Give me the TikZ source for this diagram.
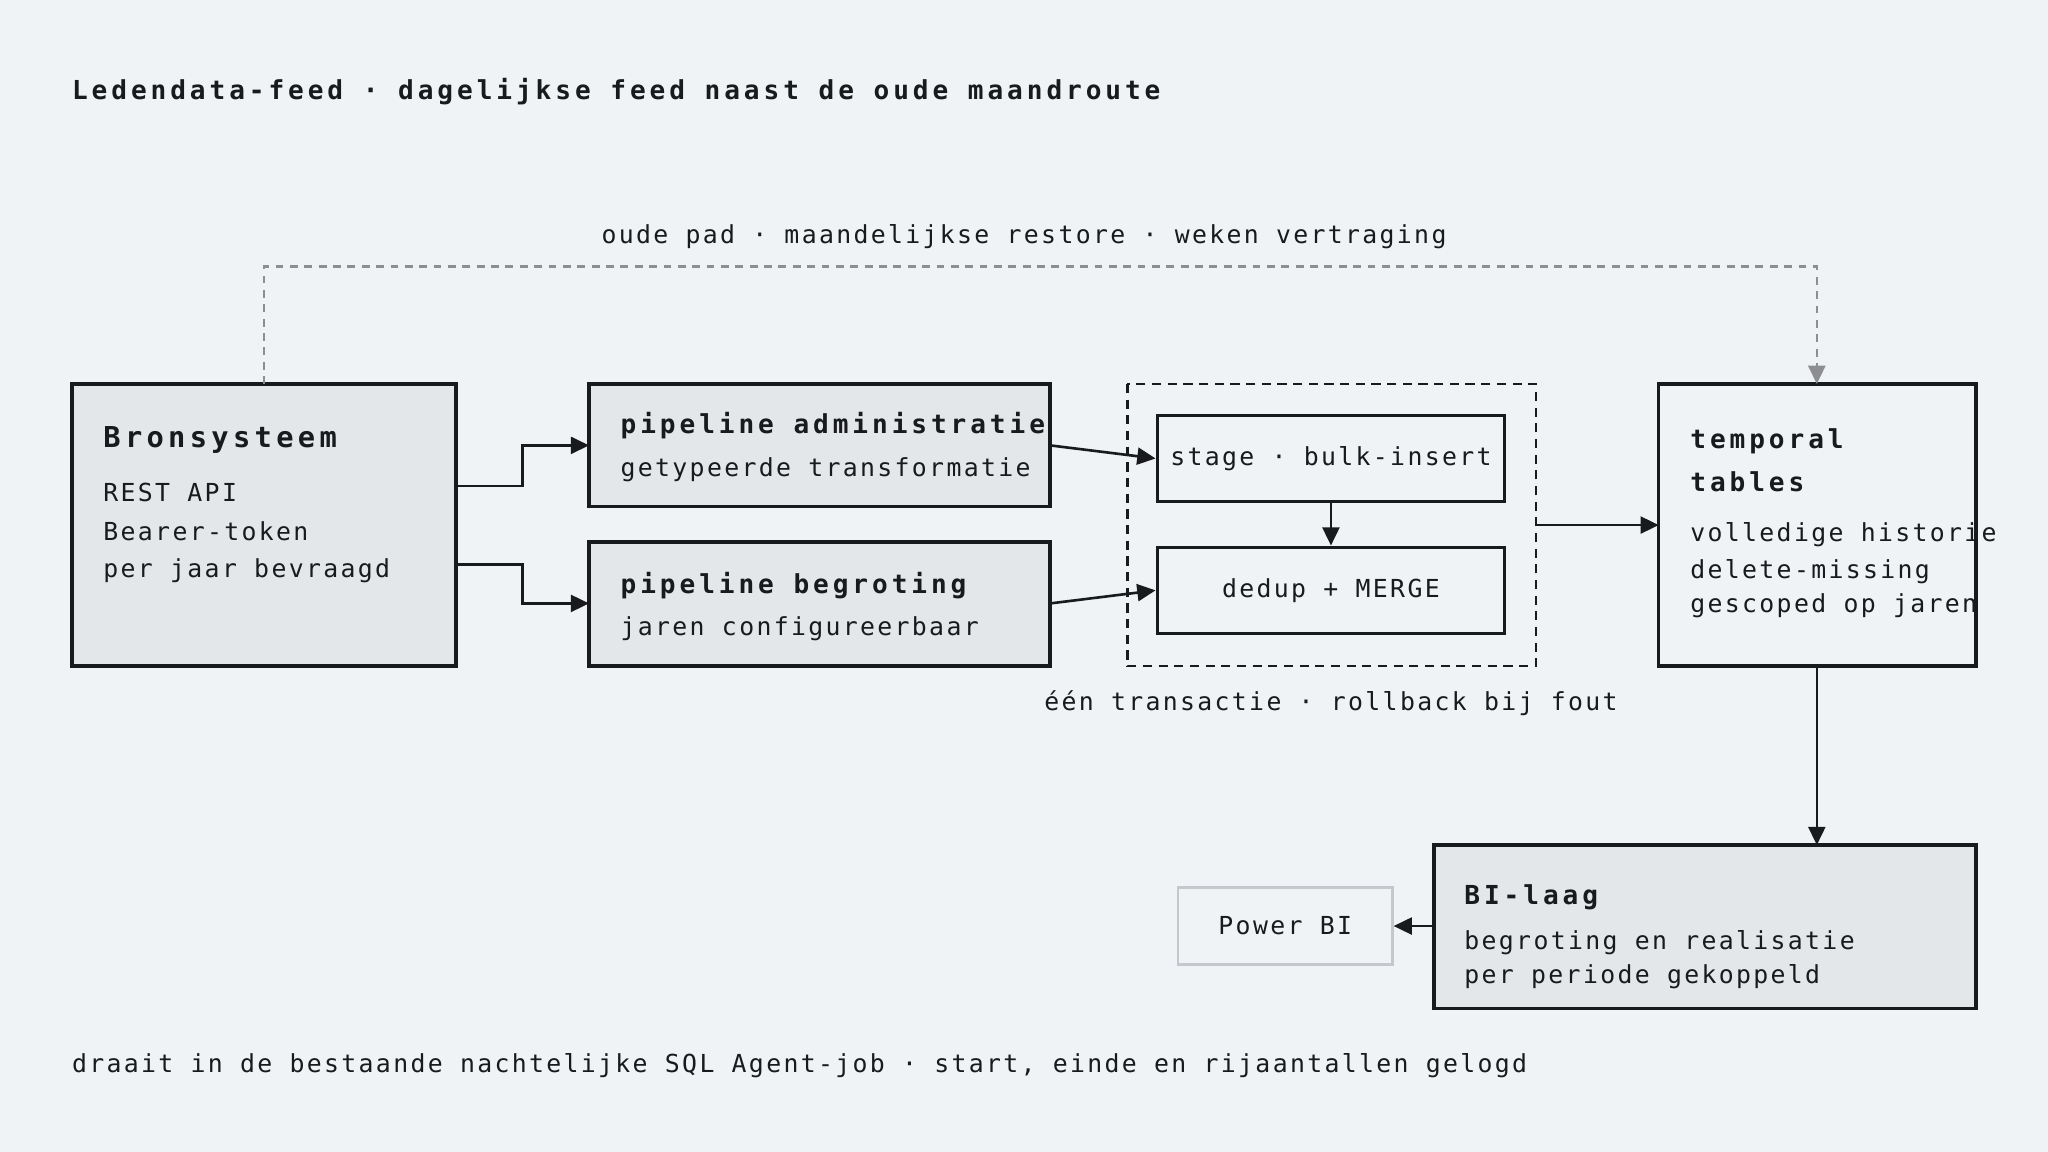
\documentclass[tikz,border=0pt]{standalone}
\usepackage{fontspec}
\setmonofont{DejaVu Sans Mono}
\usetikzlibrary{arrows.meta, positioning}
\newfontfamily\plexmono[LetterSpace=9.4]{DejaVu Sans Mono}
\newfontfamily\plexbold[LetterSpace=15]{DejaVu Sans Mono Bold}
\definecolor{bgpaper}{RGB}{240,243,246}
\definecolor{boxgray}{RGB}{228,231,234}
\definecolor{inkdark}{RGB}{24,26,30}
\definecolor{routegray}{RGB}{140,142,146}
\definecolor{pbiborder}{RGB}{196,199,203}

\begin{document}
\begin{tikzpicture}[
    x=1pt, y=-1pt,
    every node/.style={font=\plexmono\fontsize{19}{23}\selectfont, text=inkdark},
    box/.style={draw=inkdark, line width=2.6pt},
    heavy/.style={box, fill=boxgray},
    arrow/.style={-{Triangle[length=14pt,width=13pt]}, line width=2pt, draw=inkdark},
    txt/.style={anchor=west, inner sep=0pt},
    head/.style={txt, font=\plexbold\fontsize{20}{24}\selectfont}
]
    \fill[bgpaper] (0,0) rectangle (1568,882);

    % Title
    \node[head] (title) at (55,70) {Ledendata-feed · dagelijkse feed naast de oude maandroute};

    % Source
    \draw[heavy] (55,294) rectangle (349,510);
    \coordinate (bron) at (202,294);
    \node[head, font=\plexbold\fontsize{22}{26}\selectfont] (brontitle) at (79,337) {Bronsysteem};
    \node[txt] (bron1) at (79,377) {REST API};
    \node[txt] (bron2) at (79,407) {Bearer-token};
    \node[txt] (bron3) at (79,437) {per jaar bevraagd};
    \coordinate (bronA) at (349,372);
    \coordinate (bronB) at (349,432);

    % Pipelines
    \draw[heavy] (451,294) rectangle (804,388);
    \node[head] (adm) at (475,326) {pipeline administratie};
    \node[txt] (admsub) at (475,360) {getypeerde transformatie};
    \coordinate (admW) at (451,341);
    \coordinate (admE) at (804,341);

    \draw[heavy] (451,415) rectangle (804,510);
    \node[head] (beg) at (475,448) {pipeline begroting};
    \node[txt] (begsub) at (475,481) {jaren configureerbaar};
    \coordinate (begW) at (451,462);
    \coordinate (begE) at (804,462);

    % Transaction group
    \draw[inkdark, line width=2pt, dash pattern=on 7pt off 5pt] (863,294) rectangle (1176,510);
    \node[box, minimum width=266pt, minimum height=66pt] (stage) at (1019,351) {stage · bulk-insert};
    \node[box, minimum width=266pt, minimum height=66pt] (dedup) at (1019,452) {dedup + MERGE};
    \coordinate (groupE) at (1176,402);
    \node (trans) at (1019,538) {één transactie · rollback bij fout};

    % Temporal tables
    \draw[box] (1270,294) rectangle (1513,510);
    \node[head] (temp1) at (1294,338) {temporal};
    \node[head] (temp2) at (1294,369) {tables};
    \node[txt] (temp3) at (1294,409) {volledige historie};
    \node[txt] (temp4) at (1294,438) {delete-missing};
    \node[txt] (temp5) at (1294,464) {gescoped op jaren};
    \coordinate (tempW) at (1270,402);
    \coordinate (tempN) at (1391,294);
    \coordinate (tempS) at (1391,510);

    % BI
    \draw[heavy] (1098,647) rectangle (1513,772);
    \node[head] (bi) at (1121,687) {BI-laag};
    \node[txt] (bi1) at (1121,722) {begroting en realisatie};
    \node[txt] (bi2) at (1121,748) {per periode gekoppeld};
    \coordinate (biN) at (1391,647);
    \coordinate (biW) at (1098,709);
    \node[draw=pbiborder, line width=2pt, minimum width=164pt, minimum height=59pt] (pbi) at (984,709) {Power BI};

    % Old route
    \draw[routegray, line width=2pt, dash pattern=on 6pt off 5pt, -{Triangle[length=14pt,width=13pt]}]
        (bron) -- (202,204) -| (tempN);
    \node (oud) at (784,181) {oude pad · maandelijkse restore · weken vertraging};

    % Flow
    \draw[arrow] (bronA) -- (400,372) |- (admW);
    \draw[arrow] (bronB) -- (400,432) |- (begW);
    \draw[arrow] (admE) -- (stage.west);
    \draw[arrow] (begE) -- (dedup.west);
    \draw[arrow] (stage.south) -- (dedup.north);
    \draw[arrow] (groupE) -- (tempW);
    \draw[arrow] (tempS) -- (biN);
    \draw[arrow] (biW) -- (pbi.east);

    % Footer
    \node[txt] (foot) at (55,816) {draait in de bestaande nachtelijke SQL Agent-job · start, einde en rijaantallen gelogd};
\end{tikzpicture}
\end{document}
